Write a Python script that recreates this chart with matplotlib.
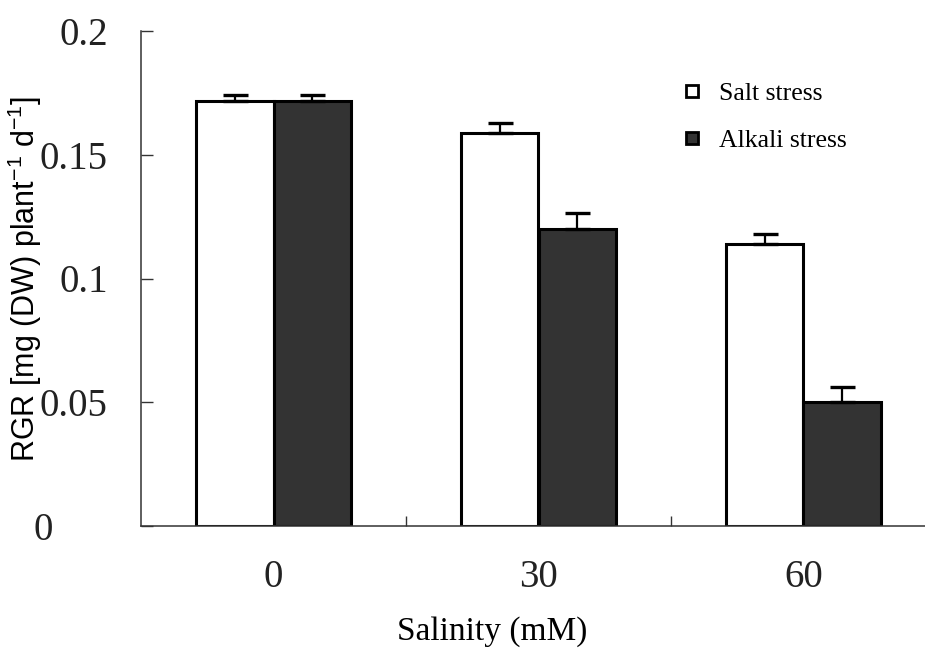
import matplotlib
matplotlib.use("Agg")
import matplotlib.pyplot as plt
import numpy as np
from matplotlib.lines import Line2D
from matplotlib.transforms import ScaledTranslation

# RGR under salt vs alkali stress
salinity = ['0', '30', '60']
salt = [0.1717, 0.1588, 0.1140]
salt_err = [0.0025, 0.0040, 0.0040]
alkali = [0.1717, 0.1200, 0.0500]
alkali_err = [0.0025, 0.0065, 0.0060]

serif = 'Liberation Serif'
sans = 'Liberation Sans'
plt.rcParams['mathtext.default'] = 'regular'

fig = plt.figure(figsize=(9.25, 6.49), dpi=100)
# axes runs a bit past the right edge, like the original export
ax = fig.add_axes([141/925, 1-526/649, 795/925, 495/649])

x = np.arange(len(salinity))
w = 0.294
ax.bar(x - w/2, salt, w, color='white', edgecolor='black', linewidth=2.2, zorder=2)
ax.bar(x + w/2, alkali, w, color='#333333', edgecolor='black', linewidth=2.2, zorder=2)

# error bars only go up
ax.errorbar(x - w/2, salt, yerr=[np.zeros(3), salt_err], fmt='none', ecolor='black',
            elinewidth=1.6, capsize=9, capthick=2.4, zorder=3)
ax.errorbar(x + w/2, alkali, yerr=[np.zeros(3), alkali_err], fmt='none', ecolor='black',
            elinewidth=1.6, capsize=9, capthick=2.4, zorder=3)

ax.set_xlim(-0.5, 2.5)
ax.set_ylim(0, 0.2)

ax.set_yticks([0, 0.05, 0.1, 0.15, 0.2])
ax.set_yticklabels(['0', '0.05', '0.1', '0.15', '0.2'], fontfamily=serif, fontsize=28,
                   color='#222222')
ax.tick_params(axis='y', direction='in', length=8.5, width=1.0, color='#333333', pad=24)

ax.set_xticks(x)
ax.set_xticklabels(salinity, fontfamily=serif, fontsize=28, color='#222222')
ax.tick_params(axis='x', which='major', length=0, pad=24)
ax.set_xticks([0.5, 1.5], minor=True)
ax.tick_params(axis='x', which='minor', direction='in', length=7.5, width=1.0, color='#333333')

# the "0" label sits further left in the original
zero = ax.get_yticklabels()[0]
zero.set_transform(zero.get_transform() + ScaledTranslation(-0.55, 0, fig.dpi_scale_trans))

for s in ['top', 'right']:
    ax.spines[s].set_visible(False)
for s in ['left', 'bottom']:
    ax.spines[s].set_color('#333333')
    ax.spines[s].set_linewidth(1.1)

ax.set_ylabel('RGR [mg (DW) plant$^{-1}$ d$^{-1}$]', fontfamily=sans, fontsize=22)
ax.yaxis.set_label_coords(-0.122, 0.5)
ax.set_xlabel('Salinity (mM)', fontfamily=serif, fontsize=24)
ax.xaxis.set_label_coords(0.4415, -0.183)

handles = [Line2D([], [], ls='none', marker='s', markersize=8, markerfacecolor='white',
                  markeredgecolor='black', markeredgewidth=2),
           Line2D([], [], ls='none', marker='s', markersize=8, markerfacecolor='#333333',
                  markeredgecolor='black', markeredgewidth=2)]
fig.legend(handles, ['Salt stress', 'Alkali stress'], loc='upper left',
           bbox_to_anchor=(666/925, 1-69/649), frameon=False, borderpad=0,
           handlelength=1.0, handletextpad=0.55, labelspacing=0.95,
           prop={'family': serif, 'size': 18.5})

plt.savefig('out.png', dpi=100)
